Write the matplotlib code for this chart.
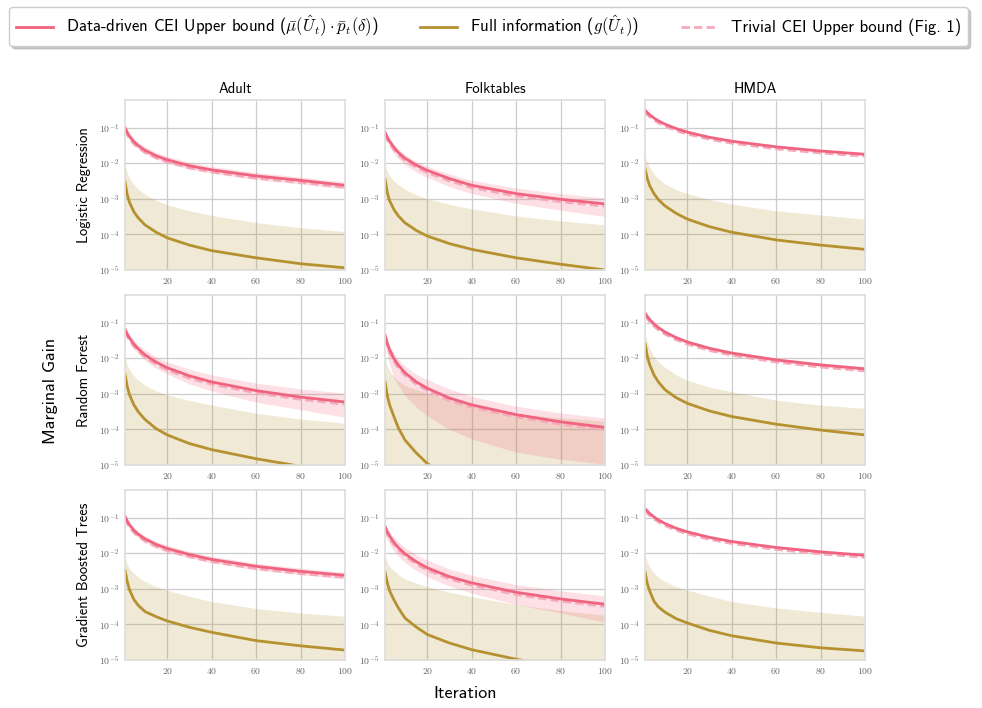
import math
import matplotlib
matplotlib.use("Agg")
import matplotlib.pyplot as plt
from matplotlib.ticker import FixedLocator, FuncFormatter, NullLocator

plt.rcParams['font.family'] = ['cmss10', 'DejaVu Sans']
plt.rcParams['mathtext.fontset'] = 'cm'
plt.rcParams['axes.unicode_minus'] = False

iters = [1, 2, 3, 5, 7, 10, 15, 20, 30, 40, 60, 80, 100]

datasets = ["Adult", "Folktables", "HMDA"]
models = ["Logistic Regression", "Random Forest", "Gradient Boosted Trees"]

# ---- Logistic Regression ----
adult_lr_cei = [.100, .073, .0575, .0403, .0311, .0231, .0162, .0125, .0085, .0065, .0044, .0033, .0024]
adult_lr_cei_hi = [.125, .091, .072, .050, .039, .029, .020, .0156, .0106, .0081, .0055, .0041, .0030]
adult_lr_cei_lo = [.080, .058, .046, .032, .025, .0185, .013, .010, .0068, .0052, .0035, .0026, .0019]
adult_lr_triv = [.087, .0635, .050, .035, .027, .020, .0141, .0109, .0074, .0057, .0038, .0029, .0021]
adult_lr_full = [3.0e-3, 1.3e-3, 8e-4, 4.3e-4, 2.9e-4, 1.85e-4, 1.15e-4, 8e-5, 5e-5, 3.5e-5, 2.2e-5, 1.5e-5, 1.15e-5]
adult_lr_full_hi = [8.7e-3, 5.4e-3, 3.9e-3, 2.5e-3, 1.84e-3, 1.32e-3, 9e-4, 6.8e-4, 4.6e-4, 3.4e-4, 2.15e-4, 1.55e-4, 1.2e-4]

folk_lr_cei = [.075, .054, .042, .028, .020, .0138, .0089, .0063, .0037, .0024, .0014, .00097, .00072]
folk_lr_cei_hi = [.088, .064, .050, .034, .025, .0172, .0112, .0082, .0050, .0033, .0020, .0014, .00105]
folk_lr_cei_lo = [.055, .040, .030, .019, .0135, .0090, .0057, .0040, .0022, .0014, .00075, .00048, .00032]
folk_lr_triv = [.0645, .0465, .036, .024, .0172, .0119, .0077, .0054, .0032, .00206, .0012, .00083, .00062]
folk_lr_full = [3.6e-3, 1.5e-3, 9e-4, 5e-4, 3.3e-4, 2.1e-4, 1.3e-4, 9e-5, 5.5e-5, 3.8e-5, 2.2e-5, 1.45e-5, 1.0e-5]
folk_lr_full_hi = [8.7e-3, 6.0e-3, 4.6e-3, 3.2e-3, 2.5e-3, 1.85e-3, 1.3e-3, 1.0e-3, 7e-4, 5.2e-4, 3.3e-4, 2.4e-4, 1.85e-4]

hmda_lr_cei = [.31, .266, .233, .187, .156, .125, .094, .075, .0535, .0417, .0289, .0221, .0179]
hmda_lr_cei_hi = [.335, .287, .252, .202, .168, .135, .1015, .081, .0578, .045, .0312, .0239, .0193]
hmda_lr_cei_lo = [.285, .245, .214, .172, .1435, .115, .0865, .069, .0492, .0384, .0266, .0203, .0165]
hmda_lr_triv = [.273, .234, .205, .165, .137, .110, .0827, .066, .0471, .0367, .0254, .0194, .0158]
hmda_lr_full = [6.9e-3, 3.7e-3, 2.4e-3, 1.4e-3, 9.5e-4, 6.3e-4, 3.9e-4, 2.7e-4, 1.65e-4, 1.15e-4, 7e-5, 5e-5, 3.8e-5]
hmda_lr_full_hi = [1.65e-2, 1.05e-2, 7.8e-3, 5.0e-3, 3.7e-3, 2.6e-3, 1.8e-3, 1.4e-3, 9.5e-4, 7.1e-4, 4.6e-4, 3.5e-4, 2.7e-4]

# ---- Random Forest ----
adult_rf_cei = [.065, .048, .0374, .025, .0182, .0125, .0078, .0054, .0032, .00216, .00123, .00081, .00059]
adult_rf_cei_hi = [.075, .057, .046, .032, .024, .017, .0110, .0079, .0049, .0034, .0020, .00138, .00104]
adult_rf_cei_lo = [.055, .040, .030, .019, .0135, .0088, .0052, .0036, .0019, .0012, .00058, .00036, .00022]
adult_rf_triv = [.056, .0413, .0322, .0215, .0157, .0108, .0067, .00465, .00275, .00186, .00106, .0007, .00051]
adult_rf_full = [3.5e-3, 1.6e-3, 9.5e-4, 4.9e-4, 3.1e-4, 1.9e-4, 1.05e-4, 7e-5, 4e-5, 2.7e-5, 1.5e-5, 9.2e-6, 6e-6]
adult_rf_full_hi = [1e-2, 6.5e-3, 4.8e-3, 3.2e-3, 2.4e-3, 1.75e-3, 1.2e-3, 9.3e-4, 6.5e-4, 4.8e-4, 2.85e-4, 1.95e-4, 1.5e-4]

folk_rf_cei = [.045, .0265, .0177, .0098, .0064, .0039, .00218, .00143, 7.6e-4, 4.9e-4, 2.6e-4, 1.63e-4, 1.14e-4]
folk_rf_cei_hi = [.055, .033, .023, .0135, .0092, .0060, .0035, .0025, .00135, 8.5e-4, 4.5e-4, 2.9e-4, 2.1e-4]
folk_rf_cei_lo = [.026, .0125, .0072, .0028, .0017, 9e-4, 4.3e-4, 2.4e-4, 1.0e-4, 5.4e-5, 2.3e-5, 1.45e-5, 1.05e-5]
folk_rf_triv = [.0387, .0228, .0152, .0084, .0055, .00335, .00187, .00123, 6.5e-4, 4.2e-4, 2.24e-4, 1.4e-4, 9.8e-5]
folk_rf_full = [2.2e-3, 9e-4, 5e-4, 2.3e-4, 1.1e-4, 5e-5, 2.2e-5, 1.1e-5, 4e-6, 2e-6, 1e-6, 6e-7, 4e-7]
folk_rf_full_hi = [1e-2, 6e-3, 4.5e-3, 3.0e-3, 2.3e-3, 1.75e-3, 1.3e-3, 1.05e-3, 6.8e-4, 4.6e-4, 2.8e-4, 2.1e-4, 1.7e-4]

hmda_rf_cei = [.185, .149, .124, .092, .0726, .0545, .038, .0287, .019, .014, .009, .0065, .00505]
hmda_rf_cei_hi = [.207, .167, .139, .103, .0813, .061, .0426, .0321, .0213, .0157, .0101, .00728, .00566]
hmda_rf_cei_lo = [.163, .131, .109, .081, .0639, .048, .0334, .0253, .0167, .0123, .0079, .0057, .00444]
hmda_rf_triv = [.161, .13, .108, .080, .0632, .0474, .0331, .025, .0165, .0122, .0078, .00566, .0044]
hmda_rf_full = [2.6e-2, 1.15e-2, 6.8e-3, 3.4e-3, 2.15e-3, 1.3e-3, 7.8e-4, 5.4e-4, 3.3e-4, 2.3e-4, 1.4e-4, 9.6e-5, 7e-5]
hmda_rf_full_hi = [4.9e-2, 2.8e-2, 1.9e-2, 1.15e-2, 8e-3, 5.5e-3, 3.4e-3, 2.4e-3, 1.55e-3, 1.15e-3, 6.6e-4, 4.8e-4, 3.9e-4]

# ---- Gradient Boosted Trees ----
adult_gb_cei = [.11, .080, .063, .044, .034, .0253, .0177, .0136, .0092, .0067, .0043, .0031, .0024]
adult_gb_cei_hi = [.134, .0976, .0769, .0537, .0415, .0309, .0216, .0166, .0112, .0082, .0052, .0038, .0029]
adult_gb_cei_lo = [.088, .064, .050, .035, .027, .0202, .0142, .0109, .0074, .0054, .0034, .0025, .0019]
adult_gb_triv = [.0957, .0696, .0548, .0383, .0296, .022, .0154, .0118, .008, .0058, .0037, .0027, .0021]
adult_gb_full = [3.3e-3, 1.6e-3, 9.5e-4, 5e-4, 3.4e-4, 2.3e-4, 1.65e-4, 1.25e-4, 8.3e-5, 6e-5, 3.5e-5, 2.5e-5, 1.9e-5]
adult_gb_full_hi = [7.9e-3, 5.0e-3, 3.7e-3, 2.7e-3, 2.1e-3, 1.6e-3, 1.15e-3, 9.1e-4, 6.1e-4, 4.4e-4, 2.8e-4, 2.1e-4, 1.7e-4]

folk_gb_cei = [.056, .0406, .031, .0202, .0144, .0096, .0058, .0039, .0022, .00147, 8e-4, 5.2e-4, 3.7e-4]
folk_gb_cei_hi = [.070, .052, .041, .028, .021, .0145, .0091, .0065, .0036, .0024, .00132, 8.8e-4, 6.3e-4]
folk_gb_cei_lo = [.033, .024, .018, .0115, .0082, .0054, .0033, .0022, .0012, 7.6e-4, 3.6e-4, 2.1e-4, 1.15e-4]
folk_gb_triv = [.0482, .0349, .0267, .0174, .0124, .0083, .005, .00335, .0019, .00126, 6.9e-4, 4.5e-4, 3.2e-4]
folk_gb_full = [2.9e-3, 1.5e-3, 9e-4, 4.9e-4, 2.9e-4, 1.5e-4, 8.5e-5, 5.2e-5, 3e-5, 1.95e-5, 1.05e-5, 6.5e-6, 4.5e-6]
folk_gb_full_hi = [8.5e-3, 5.5e-3, 4.2e-3, 3.2e-3, 2.5e-3, 1.9e-3, 1.45e-3, 1.15e-3, 8e-4, 6e-4, 3.6e-4, 2.45e-4, 1.8e-4]

hmda_gb_cei = [.18, .153, .133, .105, .0865, .0683, .0504, .040, .028, .0214, .01455, .01095, .00876]
hmda_gb_cei_hi = [.193, .164, .142, .112, .0926, .0731, .0539, .0428, .03, .0229, .0156, .0117, .0094]
hmda_gb_cei_lo = [.167, .142, .124, .0977, .0804, .0635, .0469, .0372, .026, .0199, .0135, .0102, .0081]
hmda_gb_triv = [.158, .135, .117, .0924, .0761, .0601, .0444, .0352, .0246, .0188, .0128, .0096, .0077]
hmda_gb_full = [2.9e-3, 1.4e-3, 9e-4, 4.5e-4, 3.1e-4, 2.2e-4, 1.45e-4, 1.1e-4, 6.8e-5, 4.8e-5, 3e-5, 2.2e-5, 1.8e-5]
hmda_gb_full_hi = [9e-3, 5.7e-3, 4.2e-3, 2.8e-3, 2.1e-3, 1.6e-3, 1.15e-3, 9.3e-4, 6.2e-4, 4.4e-4, 2.9e-4, 2.2e-4, 1.7e-4]

panels = [
    [(adult_lr_cei, adult_lr_cei_lo, adult_lr_cei_hi, adult_lr_triv, adult_lr_full, adult_lr_full_hi),
     (folk_lr_cei, folk_lr_cei_lo, folk_lr_cei_hi, folk_lr_triv, folk_lr_full, folk_lr_full_hi),
     (hmda_lr_cei, hmda_lr_cei_lo, hmda_lr_cei_hi, hmda_lr_triv, hmda_lr_full, hmda_lr_full_hi)],
    [(adult_rf_cei, adult_rf_cei_lo, adult_rf_cei_hi, adult_rf_triv, adult_rf_full, adult_rf_full_hi),
     (folk_rf_cei, folk_rf_cei_lo, folk_rf_cei_hi, folk_rf_triv, folk_rf_full, folk_rf_full_hi),
     (hmda_rf_cei, hmda_rf_cei_lo, hmda_rf_cei_hi, hmda_rf_triv, hmda_rf_full, hmda_rf_full_hi)],
    [(adult_gb_cei, adult_gb_cei_lo, adult_gb_cei_hi, adult_gb_triv, adult_gb_full, adult_gb_full_hi),
     (folk_gb_cei, folk_gb_cei_lo, folk_gb_cei_hi, folk_gb_triv, folk_gb_full, folk_gb_full_hi),
     (hmda_gb_cei, hmda_gb_cei_lo, hmda_gb_cei_hi, hmda_gb_triv, hmda_gb_full, hmda_gb_full_hi)],
]

pink = '#f0647f'
pink_light = '#f7a9bb'
gold = '#b5912f'

fig, axes = plt.subplots(3, 3, figsize=(9.82, 7.08), dpi=100)
fig.subplots_adjust(left=0.1273, right=0.8809, top=0.8588, bottom=0.0678,
                    wspace=0.182, hspace=0.147)

for i in range(3):
    for j in range(3):
        ax = axes[i][j]
        cei, lo, hi, triv, full, full_hi = panels[i][j]
        ax.fill_between(iters, 1e-9, full_hi, color=gold, alpha=0.2, lw=0)
        ax.fill_between(iters, lo, hi, color=pink, alpha=0.2, lw=0)
        ax.plot(iters, full, color=gold, lw=2)
        ax.plot(iters, triv, color=pink_light, lw=2, ls=(0, (3, 1.5)))
        ax.plot(iters, cei, color=pink, lw=2)
        ax.set_yscale('log')
        ax.set_xlim(1, 100)
        ax.set_ylim(1e-5, 0.6)
        ax.yaxis.set_major_locator(FixedLocator([1e-5, 1e-4, 1e-3, 1e-2, 1e-1]))
        ax.yaxis.set_minor_locator(NullLocator())
        ax.yaxis.set_major_formatter(FuncFormatter(lambda v, p: r'$10^{%d}$' % round(math.log10(v))))
        ax.set_xticks([20, 40, 60, 80, 100])
        ax.xaxis.set_major_formatter(FuncFormatter(lambda v, p: r'$%d$' % v))
        ax.tick_params(length=0, labelsize=7, labelcolor='#666666', pad=4)
        ax.grid(True, color='#cccccc', lw=0.9)
        ax.set_axisbelow(True)
        for s in ax.spines.values():
            s.set_color('#dddddd')
            s.set_linewidth(1.2)
        if i == 0:
            ax.set_title(datasets[j], fontsize=10.5, pad=5)
        if j == 0:
            ax.set_ylabel(models[i], fontsize=10.5, labelpad=6)

fig.text(0.051, 0.448, 'Marginal Gain', rotation=90, ha='center', va='center', fontsize=13)
fig.text(0.474, 0.021, 'Iteration', ha='center', va='center', fontsize=13)

h1, = axes[0][0].plot([], [], color=pink, lw=2)
h2, = axes[0][0].plot([], [], color=gold, lw=2)
h3, = axes[0][0].plot([], [], color=pink_light, lw=2, ls=(0, (3, 1.5)))
leg = fig.legend([h1, h2, h3],
                 [r'Data-driven CEI Upper bound ($\bar{\mu}(\hat{U}_t)\cdot\bar{p}_t(\delta)$)',
                  r'Full information ($g(\hat{U}_t)$)',
                  'Trivial CEI Upper bound (Fig. 1)'],
                 loc='upper center', bbox_to_anchor=(0.4975, 0.99), ncol=3, fontsize=12,
                 columnspacing=2.5, handlelength=2.2, borderaxespad=0, frameon=True,
                 fancybox=True, shadow={'color': '#bbbbbb', 'alpha': 0.8})
leg.get_frame().set_edgecolor('#cccccc')

fig.savefig('out.png', dpi=100)
